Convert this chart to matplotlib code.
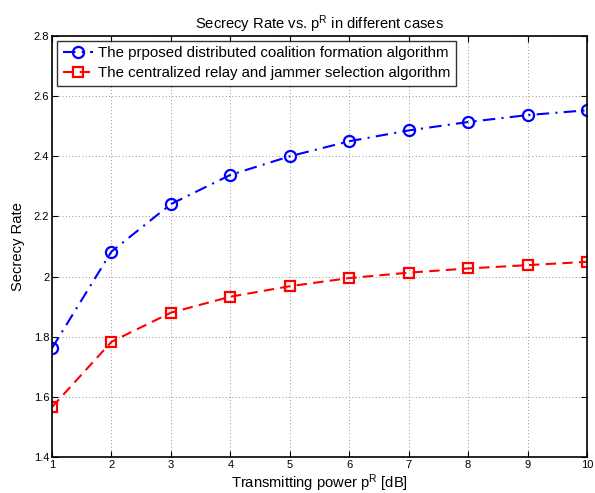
import matplotlib
matplotlib.use('Agg')
import matplotlib.pyplot as plt

# power levels in dB
power_db = [1, 2, 3, 4, 5, 6, 7, 8, 9, 10]

# secrecy rate
rate_distributed = [1.762, 2.083, 2.241, 2.338, 2.400, 2.450, 2.486, 2.514, 2.537, 2.553]
rate_centralized = [1.566, 1.783, 1.880, 1.933, 1.968, 1.995, 2.013, 2.027, 2.038, 2.049]

label_distributed = "The prposed distributed coalition formation algorithm"
label_centralized = "The centralized relay and jammer selection algorithm"

y_ticks = [1.4, 1.6, 1.8, 2.0, 2.2, 2.4, 2.6, 2.8]
y_tick_labels = ["1.4", "1.6", "1.8", "2", "2.2", "2.4", "2.6", "2.8"]

plt.rcParams['font.family'] = ['Liberation Sans', 'DejaVu Sans']
plt.rcParams['mathtext.fontset'] = 'custom'
plt.rcParams['mathtext.rm'] = 'Liberation Sans'
plt.rcParams['mathtext.it'] = 'Liberation Sans'

fig = plt.figure(figsize=(5.95, 4.93), dpi=100)
ax = fig.add_axes([52 / 595, 1 - 457 / 493, 535 / 595, 421 / 493])

ax.plot(power_db, rate_distributed, color='#0000ff', linestyle=(0, (6, 3, 1, 3)), linewidth=1.5,
        marker='o', markersize=8, markerfacecolor='none', markeredgewidth=1.6,
        label=label_distributed)
ax.plot(power_db, rate_centralized, color='#ff0000', linestyle=(0, (5, 3)), linewidth=1.5,
        marker='s', markersize=6.5, markerfacecolor='none', markeredgewidth=1.6,
        label=label_centralized)

ax.set_xlim(1, 10)
ax.set_ylim(1.4, 2.8)
ax.set_xticks(power_db)
ax.set_yticks(y_ticks)
ax.set_yticklabels(y_tick_labels)
ax.tick_params(direction='in', top=True, right=True, labelsize=8, length=4, width=0.8, pad=2)
ax.grid(True, linestyle=(0, (1, 3)), color='#707070', linewidth=0.6)
for s in ax.spines.values():
    s.set_linewidth(1.2)

ax.set_title(r"Secrecy Rate vs. p$^{\mathrm{R}}$ in different cases", fontsize=10.6, pad=5)
ax.set_xlabel(r"Transmitting power p$^{\mathrm{R}}$ [dB]", fontsize=10.6, labelpad=2)
ax.set_ylabel("Secrecy Rate", fontsize=10.6, labelpad=6)

leg = ax.legend(loc='upper left', fontsize=10.8, frameon=True, fancybox=False,
                edgecolor='black', borderaxespad=0.35, handlelength=2.0,
                handletextpad=0.4, borderpad=0.35, labelspacing=0.4)
leg.get_frame().set_linewidth(1.0)

fig.savefig('out.png', dpi=100)
plt.close(fig)
